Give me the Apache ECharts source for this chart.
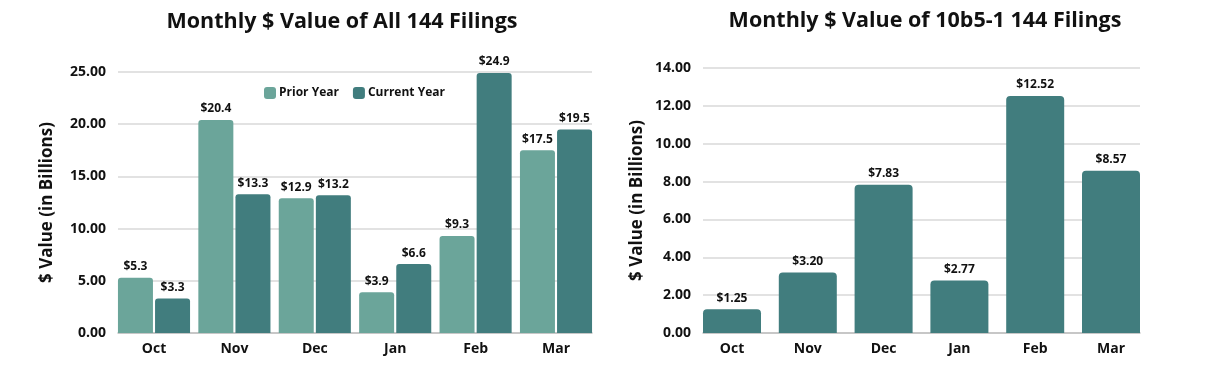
<!DOCTYPE html>
<html><head><meta charset="utf-8">
<script src="https://cdn.jsdelivr.net/npm/echarts@6/dist/echarts.min.js"></script>
<style>html,body{margin:0;padding:0;background:#fff}#c{width:1213px;height:370px}</style>
</head><body><div id="c"></div>
<script>
const months = ['Oct','Nov','Dec','Jan','Feb','Mar'];
const priorYear = [5.3, 20.4, 12.9, 3.9, 9.3, 17.5];
const currentYear = [3.3, 13.3, 13.2, 6.6, 24.9, 19.5];
const rule10b51 = [1.25, 3.20, 7.83, 2.77, 12.52, 8.57];
const titleLeft = 'Monthly $ Value of All 144 Filings';
const titleRight = 'Monthly $ Value of 10b5-1 144 Filings';
const yName = '$ Value (in Billions)';

const F = '"Open Sans", sans-serif';
const C_PRIOR = '#6ba59a', C_CUR = '#417d7e';
const chart = echarts.init(document.getElementById('c'), null, {renderer:'canvas'});
const txt = {fontFamily:F, fontWeight:'bold', fontSize:14, color:'#111'};

// grids 0,1: bar grids (category slots); grids 2,3: frame grids (gridlines, y labels, axis line)
const TOP_L = 72, TOP_R = 68, BOT = 370 - 333;
function barY(idx, max, interval){
  return {gridIndex:idx, type:'value', min:0, max:max, interval:interval,
    axisLabel:{show:false}, splitLine:{show:false}, axisLine:{show:false}, axisTick:{show:false}};
}
function frameY(idx, max, interval, gap){
  return {gridIndex:idx, type:'value', min:0, max:max, interval:interval,
    name:yName, nameLocation:'middle', nameGap:gap, nameRotate:90,
    nameTextStyle:Object.assign({}, txt, {fontSize:17}),
    axisLabel:Object.assign({formatter:v=>v.toFixed(2), margin:12}, txt),
    splitLine:{lineStyle:{color:'#d9d9d9', width:1.5}}, axisLine:{show:false}, axisTick:{show:false}};
}
function barX(idx){
  return {gridIndex:idx, type:'category', data:months,
    axisLabel:Object.assign({margin:9}, txt),
    axisLine:{show:false}, axisTick:{show:false}};
}
function frameX(idx){
  return {gridIndex:idx, type:'value', min:0, max:1, axisLabel:{show:false}, splitLine:{show:false},
    axisTick:{show:false}, axisLine:{show:true, lineStyle:{color:'#bfbfbf', width:1.5}}};
}
const lbl = (d)=>({show:true, position:'top', distance:5, fontFamily:F, fontWeight:'bold', fontSize:12, color:'#111',
  formatter:p=>'$'+p.value.toFixed(d)});
chart.setOption({
  animation:false,
  title:[
    {text:titleLeft, left:337, top:6, textAlign:'center', textStyle:{fontFamily:F, fontWeight:'bold', fontSize:21.5, color:'#111'}},
    {text:titleRight, left:920, top:5, textAlign:'center', textStyle:{fontFamily:F, fontWeight:'bold', fontSize:21.5, color:'#111'}}
  ],
  legend:{left:259, top:82, itemWidth:12, itemHeight:12, itemGap:14, itemStyle:{borderWidth:0},
    textStyle:{fontFamily:F, fontWeight:'bold', fontSize:12, color:'#111', padding:[0,0,0,-2]},
    data:['Prior Year','Current Year']},
  grid:[
    {left:113.8, right:1213-596.2, top:TOP_L, bottom:BOT},
    {left:694.1, right:1213-1148.9, top:TOP_R, bottom:BOT},
    {left:118, right:1213-592, top:TOP_L, bottom:BOT},
    {left:703, right:1213-1140, top:TOP_R, bottom:BOT}
  ],
  xAxis:[barX(0), barX(1), frameX(2), frameX(3)],
  yAxis:[barY(0,25,5), barY(1,14,2), frameY(2,25,5,62), frameY(3,14,2,57)],
  series:[
    {name:'Prior Year', type:'bar', xAxisIndex:0, yAxisIndex:0, data:priorYear, barWidth:35, barGap:'6%',
     itemStyle:{color:C_PRIOR, borderRadius:[3,3,0,0]}, label:lbl(1)},
    {name:'Current Year', type:'bar', xAxisIndex:0, yAxisIndex:0, data:currentYear, barWidth:35, barGap:'6%',
     itemStyle:{color:C_CUR, borderRadius:[3,3,0,0]}, label:lbl(1)},
    {name:'10b5-1', type:'bar', xAxisIndex:1, yAxisIndex:1, data:rule10b51, barWidth:58,
     itemStyle:{color:C_CUR, borderRadius:[4,4,0,0]}, label:lbl(2)}
  ]
});
</script></body></html>
